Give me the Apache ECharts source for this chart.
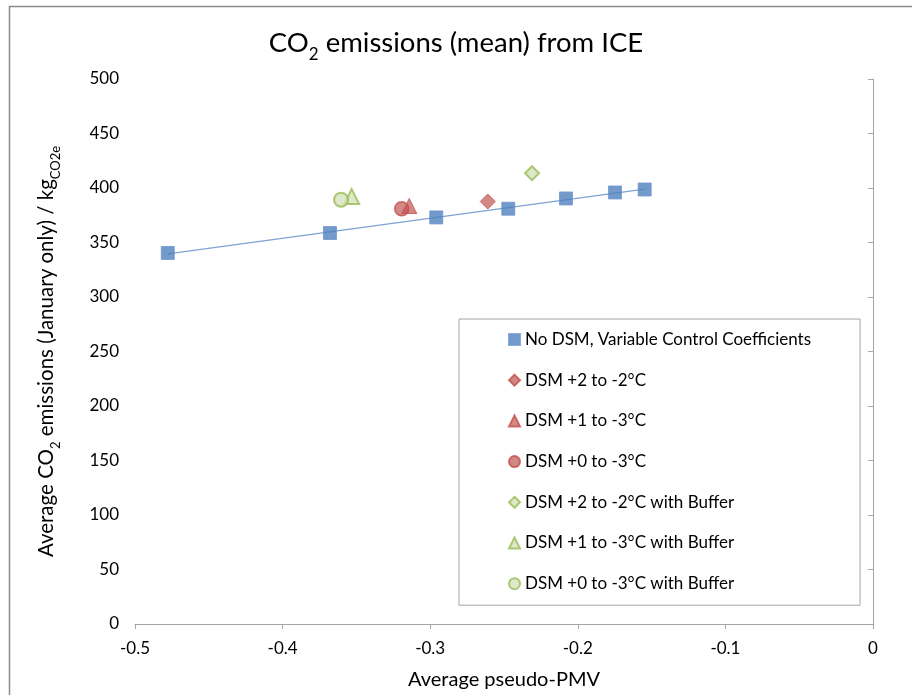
<!DOCTYPE html>
<html><head><meta charset="utf-8">
<script src="https://cdn.jsdelivr.net/npm/echarts@6/dist/echarts.min.js"></script>
<style>html,body{margin:0;padding:0;background:#fff}#c{width:912px;height:695px}</style>
</head><body><div id="c"></div>
<script>
// Data
var noDsmX = [-0.4778, -0.3679, -0.2959, -0.2471, -0.2080, -0.1748, -0.1547];
var noDsmY = [340.4, 358.7, 373.0, 381.0, 390.4, 395.9, 398.6];
var seriesNames = ['No DSM, Variable Control Coefficients', 'DSM +2 to -2°C', 'DSM +1 to -3°C', 'DSM +0 to -3°C',
  'DSM +2 to -2°C with Buffer', 'DSM +1 to -3°C with Buffer', 'DSM +0 to -3°C with Buffer'];
var dsm22 = [[-0.2610, 387.6]];
var dsm13 = [[-0.3142, 383.5]];
var dsm03 = [[-0.3193, 381.0]];
var dsm22Buf = [[-0.2310, 413.6]];
var dsm13Buf = [[-0.3532, 392.1]];
var dsm03Buf = [[-0.3604, 389.2]];
var xTicks = [-0.5, -0.4, -0.3, -0.2, -0.1, 0];
var yTicks = [0, 50, 100, 150, 200, 250, 300, 350, 400, 450, 500];

// linear trendline for the No DSM series (least squares)
var n = noDsmX.length, sx = 0, sy = 0, sxx = 0, sxy = 0;
for (var i = 0; i < n; i++) { sx += noDsmX[i]; sy += noDsmY[i]; sxx += noDsmX[i]*noDsmX[i]; sxy += noDsmX[i]*noDsmY[i]; }
var slope = (n*sxy - sx*sy) / (n*sxx - sx*sx), icpt = (sy - slope*sx) / n;
var xmin = Math.min.apply(null, noDsmX), xmax = Math.max.apply(null, noDsmX);
var trend = [[xmin, slope*xmin + icpt], [xmax, slope*xmax + icpt]];

var FONT = 'Lato';
var red = '#C0504D', redFill = 'rgba(192,80,77,0.85)';
var green = '#9BBB59', greenFill = '#D5E3BB';
var blue = '#4F81BD';

var chart = echarts.init(document.getElementById('c'), null, {renderer: 'canvas'});
chart.setOption({
  animation: false,
  textStyle: {fontFamily: FONT},
  graphic: [{type: 'rect', shape: {x: 9.5, y: 6.5, width: 1000, height: 1000}, style: {fill: 'none', stroke: '#8a8a8a', lineWidth: 1.5}, silent: true}],
  title: {
    text: '{a|CO}{s|2}{a| emissions (mean) from ICE}',
    left: 'center', top: 21,
    textStyle: {rich: {
      a: {fontFamily: FONT, fontSize: 27.5, fontWeight: 'normal', color: '#000', verticalAlign: 'bottom', lineHeight: 31},
      s: {fontFamily: FONT, fontSize: 17, fontWeight: 'normal', color: '#000', verticalAlign: 'bottom', lineHeight: 21, padding: [0, 0, -6, 0]}
    }}
  },
  grid: {left: 135, top: 79, right: 39, bottom: 70, containLabel: false},
  xAxis: {
    type: 'value', min: xTicks[0], max: xTicks[xTicks.length-1], interval: 0.1,
    name: 'Average pseudo-PMV', nameLocation: 'middle', nameGap: 46,
    nameTextStyle: {fontFamily: FONT, fontSize: 20, color: '#000'},
    axisLine: {show: true, lineStyle: {color: '#a6a6a6', width: 1}},
    axisTick: {show: true, length: 5, lineStyle: {color: '#a6a6a6'}},
    axisLabel: {fontFamily: FONT, fontSize: 17, color: '#000', margin: 16},
    splitLine: {show: false}
  },
  yAxis: {
    type: 'value', min: yTicks[0], max: yTicks[yTicks.length-1], interval: 50,
    name: '{a|Average CO}{s|2}{a| emissions (January only) / kg}{s|CO2e}',
    nameLocation: 'middle', nameGap: 78, nameRotate: 90,
    nameTextStyle: {rich: {
      a: {fontFamily: FONT, fontSize: 20.5, color: '#000', verticalAlign: 'bottom', lineHeight: 24},
      s: {fontFamily: FONT, fontSize: 13, color: '#000', verticalAlign: 'bottom', lineHeight: 17, padding: [0, 0, -5, 0]}
    }},
    axisLine: {show: true, lineStyle: {color: '#a6a6a6', width: 1}},
    axisTick: {show: true, length: 5, lineStyle: {color: '#a6a6a6'}},
    axisLabel: {fontFamily: FONT, fontSize: 17, color: '#000', margin: 16},
    splitLine: {show: false}
  },
  legend: {
    orient: 'vertical', left: 459, top: 319,
    padding: [12, 49, 13, 49],
    borderColor: '#a6a6a6', borderWidth: 1, backgroundColor: '#fff',
    itemGap: 23.7, itemWidth: 11, itemHeight: 11,
    textStyle: {fontFamily: FONT, fontSize: 17, color: '#000', lineHeight: 17},
    data: [
      {name: seriesNames[0], icon: 'rect'},
      {name: seriesNames[1], icon: 'diamond'},
      {name: seriesNames[2], icon: 'triangle'},
      {name: seriesNames[3], icon: 'circle'},
      {name: seriesNames[4], icon: 'diamond'},
      {name: seriesNames[5], icon: 'triangle'},
      {name: seriesNames[6], icon: 'circle'}
    ]
  },
  series: [
    {type: 'line', name: 'trend', data: trend, symbol: 'none', lineStyle: {color: '#7fa3d3', width: 1.3}, silent: true, z: 1},
    {type: 'scatter', name: seriesNames[0], data: noDsmX.map(function(x, i){ return [x, noDsmY[i]]; }),
      symbol: 'rect', symbolSize: 13, itemStyle: {color: blue, borderColor: '#6f97cc', borderWidth: 1}, z: 3},
    {type: 'scatter', name: seriesNames[1], data: dsm22, symbol: 'diamond', symbolSize: 15,
      itemStyle: {color: redFill, borderColor: red, borderWidth: 1}},
    {type: 'scatter', name: seriesNames[2], data: dsm13, symbol: 'triangle', symbolSize: 15,
      itemStyle: {color: redFill, borderColor: red, borderWidth: 1}},
    {type: 'scatter', name: seriesNames[3], data: dsm03, symbol: 'circle', symbolSize: 14,
      itemStyle: {color: redFill, borderColor: red, borderWidth: 1.5}},
    {type: 'scatter', name: seriesNames[4], data: dsm22Buf, symbol: 'diamond', symbolSize: 14,
      itemStyle: {color: greenFill, borderColor: green, borderWidth: 2}},
    {type: 'scatter', name: seriesNames[5], data: dsm13Buf, symbol: 'triangle', symbolSize: 15,
      itemStyle: {color: greenFill, borderColor: green, borderWidth: 2}},
    {type: 'scatter', name: seriesNames[6], data: dsm03Buf, symbol: 'circle', symbolSize: 14,
      itemStyle: {color: greenFill, borderColor: green, borderWidth: 2}}
  ]
});
</script>
</body></html>
